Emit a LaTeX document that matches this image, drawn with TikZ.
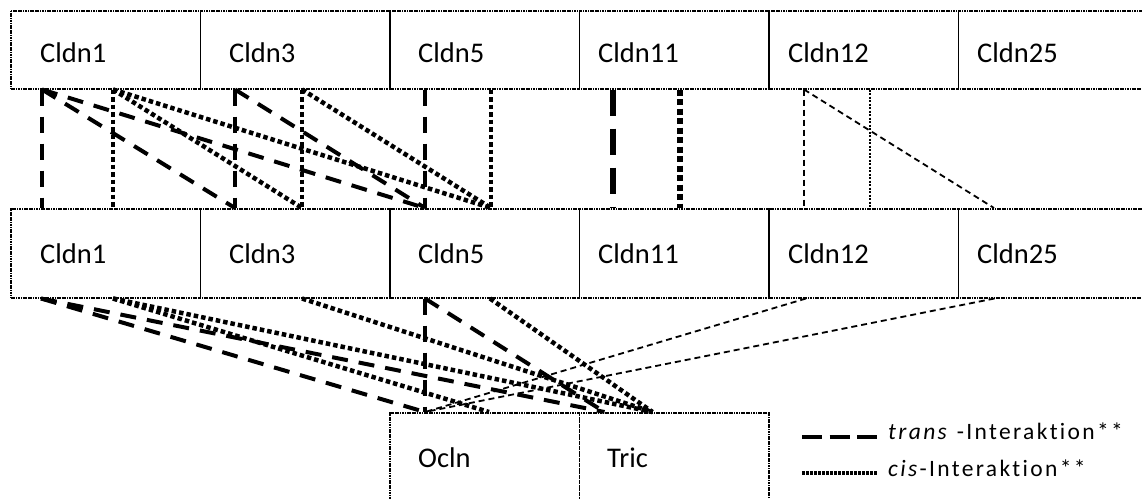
\documentclass[tikz,border=0pt]{standalone}
\usepackage{fontspec}
\setmainfont{Carlito}[Ligatures=NoCommon]
\begin{document}
\begin{tikzpicture}[x=1pt,y=-1pt,
  box/.style={draw, line width=1.5pt, dash pattern=on 1.2pt off 0.5pt, minimum width=189.5pt, inner sep=0pt, anchor=north west},
  lbl/.style={anchor=base west, inner sep=0pt, font=\fontsize{28.5}{34}\selectfont},
  leg/.style={anchor=base west, inner sep=0pt, font=\fontsize{23.5}{28}\selectfont\addfontfeature{LetterSpace=10}},
  tr/.style={line width=4pt, dash pattern=on 16pt off 11pt},
  ci/.style={line width=4.5pt, dash pattern=on 4.5pt off 3pt},
  trb/.style={line width=6pt, dash pattern=on 26pt off 13pt},
  cib/.style={line width=6pt, dash pattern=on 6pt off 3.5pt},
  trt/.style={line width=1.8pt, dash pattern=on 6pt off 4pt},
  cit/.style={line width=1.8pt, dash pattern=on 2pt off 1.5pt},
  legtr/.style={line width=4.5pt, dash pattern=on 20pt off 7.5pt},
  legci/.style={line width=3.5pt, dash pattern=on 2.5pt off 1.5pt}]
\useasboundingbox (0,0) rectangle (1142,498);
% top row
\node[box, minimum height=78pt] (T1) at (10,10) {};
\node[box, minimum height=78pt] (T3) at (199.5,10) {};
\node[box, minimum height=78pt] (T5) at (389,10) {};
\node[box, minimum height=78pt] (T11) at (578.5,10) {};
\node[box, minimum height=78pt] (T12) at (768,10) {};
\node[box, minimum height=78pt] (T25) at (957.5,10) {};
\node[lbl] (lT1) at (40,62) {Cldn1};
\node[lbl] (lT3) at (229,62) {Cldn3};
\node[lbl] (lT5) at (418,62) {Cldn5};
\node[lbl] (lT11) at (598,62) {Cldn11};
\node[lbl] (lT12) at (788,62) {Cldn12};
\node[lbl] (lT25) at (977,62) {Cldn25};
% middle row
\node[box, minimum height=89pt] (M1) at (10,208) {};
\node[box, minimum height=89pt] (M3) at (199.5,208) {};
\node[box, minimum height=89pt] (M5) at (389,208) {};
\node[box, minimum height=89pt] (M11) at (578.5,208) {};
\node[box, minimum height=89pt] (M12) at (768,208) {};
\node[box, minimum height=89pt] (M25) at (957.5,208) {};
\node[lbl] (lM1) at (40,263) {Cldn1};
\node[lbl] (lM3) at (229,263) {Cldn3};
\node[lbl] (lM5) at (418,263) {Cldn5};
\node[lbl] (lM11) at (598,263) {Cldn11};
\node[lbl] (lM12) at (788,263) {Cldn12};
\node[lbl] (lM25) at (977,263) {Cldn25};
% bottom row
\node[box, minimum height=110pt] (O) at (389,412) {};
\node[box, minimum height=110pt] (Tr) at (578.5,412) {};
\node[lbl] (lO) at (418,467) {Ocln};
\node[lbl] (lTr) at (607,467) {Tric};
% anchor points
\coordinate (t1d) at ([xshift=32pt]T1.south west);
\coordinate (t1o) at ([xshift=103pt]T1.south west);
\coordinate (t3d) at ([xshift=35.5pt]T3.south west);
\coordinate (t3o) at ([xshift=102.5pt]T3.south west);
\coordinate (t5d) at ([xshift=36pt]T5.south west);
\coordinate (t5o) at ([xshift=102pt]T5.south west);
\coordinate (t11d) at ([xshift=34.5pt]T11.south west);
\coordinate (t11o) at ([xshift=101.5pt]T11.south west);
\coordinate (t12d) at ([xshift=36pt]T12.south west);
\coordinate (t12o) at ([xshift=102pt]T12.south west);
\coordinate (m1d) at ([xshift=32pt]M1.north west);
\coordinate (m1o) at ([xshift=103pt]M1.north west);
\coordinate (m3d) at ([xshift=35.5pt]M3.north west);
\coordinate (m3o) at ([xshift=102.5pt]M3.north west);
\coordinate (m5d) at ([xshift=36pt]M5.north west);
\coordinate (m5o) at ([xshift=102pt]M5.north west);
\coordinate (m11d) at ([xshift=34.5pt]M11.north west);
\coordinate (m11o) at ([xshift=101.5pt]M11.north west);
\coordinate (m12d) at ([xshift=36pt]M12.north west);
\coordinate (m12o) at ([xshift=102pt]M12.north west);
\coordinate (m25d) at ([xshift=36.5pt]M25.north west);
\coordinate (b1d) at ([xshift=31pt]M1.south west);
\coordinate (b1o) at ([xshift=103pt]M1.south west);
\coordinate (b3o) at ([xshift=102.5pt]M3.south west);
\coordinate (b5d) at ([xshift=36pt]M5.south west);
\coordinate (b5o) at ([xshift=101pt]M5.south west);
\coordinate (b12d) at ([xshift=38pt]M12.south west);
\coordinate (b25d) at ([xshift=37pt]M25.south west);
\coordinate (od) at ([xshift=36pt]O.north west);
\coordinate (oo) at ([xshift=100pt]O.north west);
\coordinate (tq) at ([xshift=26pt]Tr.north west);
\coordinate (to) at ([xshift=74pt]Tr.north west);
% top -> middle, trans
\draw[tr] (t1d) -- (m1d);
\draw[tr] (t1d) -- (m3d);
\draw[tr] (t1d) -- (m5d);
\draw[tr] (t3d) -- (m3d);
\draw[tr] (t3d) -- (m5d);
\draw[tr] (t5d) -- (m5d);
\draw[trb] (t11d) -- (m11d);
\draw[trt] (t12d) -- (m12d);
\draw[trt] (t12d) -- (m25d);
% top -> middle, cis
\draw[ci] (t1o) -- (m1o);
\draw[ci] (t1o) -- (m3o);
\draw[ci] (t1o) -- (m5o);
\draw[ci] (t3o) -- (m3o);
\draw[ci] (t3o) -- (m5o);
\draw[ci] (t5o) -- (m5o);
\draw[cib] (t11o) -- (m11o);
\draw[cit] (t12o) -- (m12o);
% middle -> bottom, trans
\draw[tr] (b1d) -- (od);
\draw[tr] (b1d) -- (tq);
\draw[tr] (b5d) -- (od);
\draw[tr] (b5d) -- (tq);
\draw[trt] (b12d) -- (od);
\draw[trt] (b25d) -- (od);
% middle -> bottom, cis
\draw[ci] (b1o) -- (oo);
\draw[ci] (b1o) -- (to);
\draw[ci] (b3o) -- (to);
\draw[ci] (b5o) -- (to);
% legend
\coordinate (l1a) at (802,437);
\coordinate (l1b) at (877,437);
\coordinate (l2a) at (802,473);
\coordinate (l2b) at (877,473);
\draw[legtr] (l1a) -- (l1b);
\draw[legci] (l2a) -- (l2b);
\node[leg] (leg1) at (888,439) {\textit{trans} -Interaktion**};
\node[leg] (leg2) at (888,476) {\textit{cis}-Interaktion**};
\end{tikzpicture}
\end{document}
